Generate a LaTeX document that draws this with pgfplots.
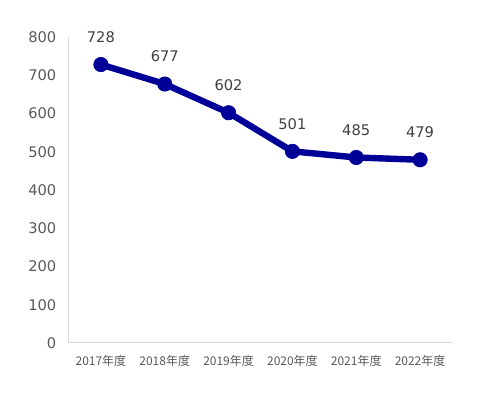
\documentclass[border=0pt]{standalone}
\usepackage{fontspec}
\setmainfont{DejaVu Sans}
\newfontfamily\cjk{Noto Sans CJK JP}
\usepackage{pgfplots}
\pgfplotsset{compat=1.18}
\definecolor{linec}{HTML}{000099}
\definecolor{axc}{HTML}{D9D9D9}
\definecolor{tickc}{HTML}{595959}
\definecolor{labc}{HTML}{404040}
\begin{document}
\begin{tikzpicture}
\useasboundingbox (-51.75pt,-39pt) rectangle (308.25pt,257.25pt);
\begin{axis}[
  at={(0,0)}, anchor=south west,
  scale only axis, width=287.25pt, height=229.5pt,
  xmin=-0.5, xmax=5.5, ymin=0, ymax=800,
  ytick={0,100,...,800},
  xtick={0,...,5},
  xticklabels={2017年度,2018年度,2019年度,2020年度,2021年度,2022年度},
  xticklabel style={font=\cjk\fontsize{9}{10}\selectfont, text=tickc, yshift=-6pt},
  yticklabel style={font=\fontsize{11}{12}\selectfont, text=tickc, xshift=-6pt},
  /pgf/number format/assume math mode=true,
  major tick length=0pt,
  axis x line*=bottom, axis y line*=left,
  axis line style={axc, line width=0.75pt, -},
  clip=false,
  nodes near coords,
  point meta=explicit symbolic,
  every node near coord/.append style={font=\fontsize{11}{12}\selectfont, text=labc, anchor=south, yshift=13pt},
]
\addplot[linec, line width=4.8pt, line join=round, mark=*, mark size=5.4pt, mark options={solid, fill=linec, draw=linec, line width=0.5pt}]
 table[meta=lab] {
x y lab
0 728 728
1 677 677
2 602 602
3 501 501
4 485 485
5 479 479
};
\end{axis}
\end{tikzpicture}
\end{document}
